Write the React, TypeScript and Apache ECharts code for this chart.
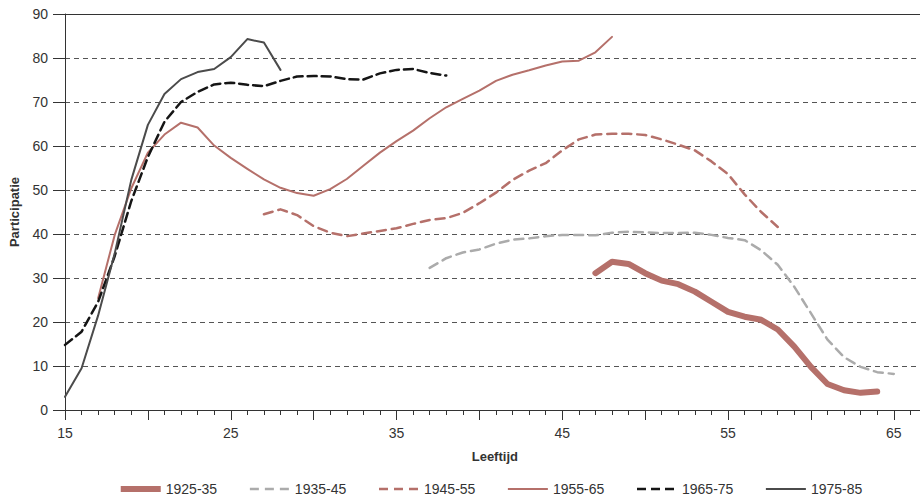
import React, { useEffect, useRef } from "react";
import * as echarts from "echarts";

const cohorts = ["1925-35", "1935-45", "1945-55", "1955-65", "1965-75", "1975-85"];

const start1925 = 47;
const vals1925 = [31.1, 33.7, 33.2, 31.1, 29.4, 28.6, 26.9, 24.6, 22.3, 21.2, 20.5, 18.3, 14.4, 9.8, 5.9, 4.5, 3.9, 4.2];

const start1935 = 37;
const vals1935 = [32.3, 34.5, 35.8, 36.5, 37.8, 38.7, 39.0, 39.5, 39.8, 39.8, 39.7, 40.3, 40.5, 40.4, 40.2, 40.2, 40.3, 39.8, 39.1, 38.6, 36.3, 33.0, 28.0, 22.0, 16.0, 12.0, 9.8, 8.6, 8.2];

const start1945 = 27;
const vals1945 = [44.5, 45.6, 44.3, 41.8, 40.3, 39.5, 40.1, 40.7, 41.3, 42.3, 43.2, 43.6, 44.8, 47.0, 49.4, 52.3, 54.4, 56.1, 59.0, 61.5, 62.6, 62.8, 62.8, 62.5, 61.5, 60.3, 59.0, 56.5, 53.6, 49.0, 45.0, 41.6];

const start1955 = 17;
const vals1955 = [25.4, 39.8, 50.4, 58.5, 62.6, 65.3, 64.2, 60.1, 57.3, 54.8, 52.4, 50.5, 49.3, 48.7, 50.2, 52.5, 55.5, 58.5, 61.1, 63.5, 66.3, 68.8, 70.7, 72.6, 74.8, 76.2, 77.2, 78.3, 79.2, 79.4, 81.3, 84.8];

const start1965 = 15;
const vals1965 = [14.8, 17.8, 24.6, 35.0, 47.5, 57.5, 65.5, 70.0, 72.3, 74.0, 74.4, 73.9, 73.6, 74.8, 75.8, 75.9, 75.8, 75.2, 75.1, 76.5, 77.3, 77.5, 76.6, 76.0];

const start1975 = 15;
const vals1975 = [3.0, 9.5, 21.5, 35.6, 52.3, 64.8, 71.8, 75.2, 76.8, 77.5, 80.2, 84.3, 83.5, 77.3];

const xLabels = [15, 25, 35, 45, 55, 65];
const yTicks = [0, 10, 20, 30, 40, 50, 60, 70, 80, 90];

const toPairs = (start: number, vals: number[]) => vals.map((v, i) => [start + i, v]);

const BROWN = "#b5706a";
const GRAY = "#ababab";
const BLACK = "#151515";
const DARK = "#4b4b4b";
const AXIS = "#333333";
const FONT = "'Liberation Sans', Arial, Helvetica, sans-serif";

const styles: { color: string; width: number; type: any }[] = [
  { color: BROWN, width: 6, type: "solid" },
  { color: GRAY, width: 2.5, type: [9, 6] },
  { color: BROWN, width: 2.5, type: [9, 6] },
  { color: BROWN, width: 2, type: "solid" },
  { color: BLACK, width: 2.5, type: [9, 5] },
  { color: DARK, width: 2, type: "solid" },
];

export default function App() {
  const ref = useRef<HTMLDivElement>(null);

  useEffect(() => {
    document.body.style.margin = "0";
    if (!ref.current) return;
    const chart = echarts.init(ref.current, undefined, { renderer: "svg" });

    const datasets = [
      toPairs(start1925, vals1925),
      toPairs(start1935, vals1935),
      toPairs(start1945, vals1945),
      toPairs(start1955, vals1955),
      toPairs(start1965, vals1965),
      toPairs(start1975, vals1975),
    ];

    chart.setOption({
      animation: false,
      textStyle: { fontFamily: FONT },
      grid: { left: 62, top: 14, bottom: 93, right: 3.35, containLabel: false },
      legend: {
        bottom: 2,
        left: "center",
        itemWidth: 40,
        itemHeight: 14,
        itemGap: 31.5,
        itemStyle: { opacity: 0, borderWidth: 0 },
        textStyle: { fontSize: 14, color: AXIS, fontFamily: FONT },
        data: cohorts.map((c, i) => ({
          name: c,
          itemStyle: { opacity: 0, borderWidth: 0 },
          lineStyle: { color: styles[i].color, width: styles[i].width, type: styles[i].type, cap: "butt" },
        })),
      },
      xAxis: [
        {
          type: "value",
          min: 15,
          max: 70,
          interval: 5,
          position: "bottom",
          name: "Leeftijd",
          nameLocation: "middle",
          nameGap: 40,
          nameTextStyle: { fontWeight: "bold", fontSize: 13, color: AXIS, fontFamily: FONT, padding: [0, 52, 0, 0] },
          axisLine: { show: true, lineStyle: { color: AXIS, width: 1 } },
          axisTick: { show: true, length: 10, lineStyle: { color: AXIS, width: 1 } },
          minorTick: { show: true, splitNumber: 5, length: 5, lineStyle: { color: AXIS, width: 1 } },
          axisLabel: {
            margin: 16,
            fontSize: 14,
            color: AXIS,
            fontFamily: FONT,
            formatter: (v: number) => (xLabels.indexOf(v) >= 0 ? String(v) : ""),
          },
          splitLine: { show: false },
        },
        {
          type: "value",
          min: 15,
          max: 70,
          position: "top",
          axisLine: { show: true, lineStyle: { color: AXIS, width: 1 } },
          axisTick: { show: false },
          axisLabel: { show: false },
          splitLine: { show: false },
        },
      ],
      yAxis: {
        type: "value",
        min: 0,
        max: 90,
        interval: 10,
        name: "Participatie",
        nameLocation: "middle",
        nameGap: 44,
        nameTextStyle: { fontWeight: "bold", fontSize: 13, color: AXIS, fontFamily: FONT },
        axisLine: { show: true, lineStyle: { color: AXIS, width: 1 } },
        axisTick: { show: true, length: 12, lineStyle: { color: AXIS, width: 1 } },
        axisLabel: {
          margin: 17,
          fontSize: 14,
          color: AXIS,
          fontFamily: FONT,
          formatter: (v: number) => (yTicks.indexOf(v) >= 0 ? String(v) : ""),
        },
        splitLine: { show: true, lineStyle: { color: "#555555", width: 1, type: [5, 4] } },
      },
      series: cohorts.map((name, i) => ({
        name,
        type: "line",
        data: datasets[i],
        symbol: "none",
        showSymbol: false,
        smooth: false,
        xAxisIndex: 0,
        yAxisIndex: 0,
        lineStyle: { color: styles[i].color, width: styles[i].width, type: styles[i].type, cap: "round", join: "round" },
        itemStyle: { color: styles[i].color },
        emphasis: { disabled: true },
        z: 3,
      })),
    });

    return () => chart.dispose();
  }, []);

  return (
    <div style={{ width: 920, height: 503, overflow: "hidden" }}>
      <div ref={ref} style={{ width: 980, height: 503 }} />
    </div>
  );
}
